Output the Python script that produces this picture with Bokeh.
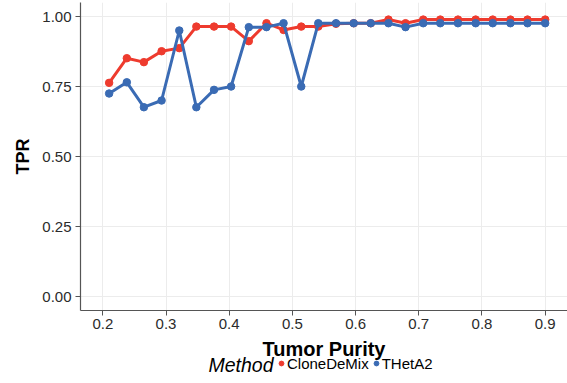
from bokeh.plotting import figure
from bokeh.layouts import column
from bokeh.models import Range1d, FixedTicker, Legend, LegendItem, Label
from bokeh.embed import file_html
from bokeh.resources import INLINE

purity = [0.210, 0.238, 0.265, 0.293, 0.321, 0.348, 0.376, 0.403, 0.431, 0.459,
          0.486, 0.514, 0.541, 0.569, 0.597, 0.624, 0.652, 0.679, 0.707, 0.734,
          0.762, 0.790, 0.817, 0.845, 0.872, 0.900]
clonedemix = [0.763, 0.851, 0.837, 0.876, 0.887, 0.964, 0.964, 0.964, 0.912, 0.976,
              0.952, 0.964, 0.964, 0.974, 0.976, 0.976, 0.989, 0.976, 0.989, 0.989,
              0.989, 0.989, 0.989, 0.989, 0.989, 0.989]
theta2 = [0.725, 0.765, 0.676, 0.700, 0.950, 0.676, 0.738, 0.750, 0.962, 0.962,
          0.976, 0.750, 0.976, 0.976, 0.976, 0.976, 0.976, 0.962, 0.976, 0.976,
          0.976, 0.976, 0.976, 0.976, 0.976, 0.976]
x_ticks = [0.2, 0.3, 0.4, 0.5, 0.6, 0.7, 0.8, 0.9]
y_ticks = [0.0, 0.25, 0.5, 0.75, 1.0]
y_tick_labels = ["0.00", "0.25", "0.50", "0.75", "1.00"]
methods = ["CloneDeMix", "THetA2"]
colors = ["#EE3B2E", "#3A6BB4"]
x_title = "Tumor Purity"
y_title = "TPR"
legend_title = "Method"

FONT = "Liberation Sans"
W = 567
H_MAIN = 336
H_BOTTOM = 47
LEFT = 80

p = figure(width=W, height=H_MAIN, output_backend="svg", toolbar_location=None,
           x_range=Range1d(0.1647, 0.9353), y_range=Range1d(-0.05, 1.05),
           min_border_left=LEFT, min_border_right=0, min_border_top=2,
           min_border_bottom=26)
p.outline_line_color = None
p.background_fill_color = "white"

# grid
for g in (p.xgrid, p.ygrid):
    g.grid_line_color = "#ececec"
    g.grid_line_width = 1
p.xgrid.ticker = FixedTicker(ticks=x_ticks)
p.ygrid.ticker = FixedTicker(ticks=y_ticks)

# axes
p.xaxis.ticker = FixedTicker(ticks=x_ticks)
p.yaxis.ticker = FixedTicker(ticks=y_ticks)
p.yaxis.major_label_overrides = {t: l for t, l in zip(y_ticks, y_tick_labels)}
p.xaxis.major_label_overrides = {t: str(t) for t in x_ticks}
for ax in (p.xaxis, p.yaxis):
    ax.axis_line_color = "#555555"
    ax.axis_line_width = 1.2
    ax.major_tick_line_color = "#555555"
    ax.major_tick_out = 5
    ax.major_tick_in = 0
    ax.minor_tick_line_color = None
    ax.major_label_text_font = FONT
    ax.major_label_text_font_size = "15px"
    ax.major_label_text_color = "#2b2b2b"
    ax.axis_label_text_font = FONT
    ax.axis_label_text_font_size = "18px"
    ax.axis_label_text_font_style = "bold"
    ax.axis_label_text_color = "black"
p.yaxis.axis_label = y_title
p.xaxis.major_label_standoff = 3
p.yaxis.major_label_standoff = 4
p.yaxis.axis_label_standoff = 6

# data
for ys, c in zip([clonedemix, theta2], colors):
    p.line(purity, ys, line_color=c, line_width=3)
    p.scatter(purity, ys, size=7.5, fill_color=c, line_color=c)

# bottom strip: x-axis title and legend (its frame is aligned with the main frame)
p2 = figure(width=W, height=H_BOTTOM, output_backend="svg", toolbar_location=None,
            x_range=Range1d(LEFT, W), y_range=Range1d(0, H_BOTTOM),
            x_axis_location=None, y_axis_location=None,
            min_border=0, min_border_left=LEFT, min_border_right=0,
            min_border_top=0, min_border_bottom=0)
p2.outline_line_color = None
p2.grid.visible = False

p2.add_layout(Label(x=323.5, y=H_BOTTOM - 12.5, text=x_title, text_font=FONT,
                    text_font_size="20px", text_font_style="bold",
                    text_align="center", text_baseline="middle", text_color="black"))
p2.add_layout(Label(x=208, y=H_BOTTOM - 28, text=legend_title, text_font=FONT,
                    text_font_size="19.5px", text_font_style="italic",
                    text_align="left", text_baseline="middle", text_color="black"))

nan = float("nan")
dummies = [p2.scatter(x=[nan], y=[nan], size=5, fill_color=c, line_color=c) for c in colors]
legend = Legend(items=[LegendItem(label=m, renderers=[r]) for m, r in zip(methods, dummies)],
                location=(275 - LEFT, 11.5), orientation="horizontal",
                glyph_width=12, glyph_height=12, label_standoff=0, spacing=1,
                padding=0, margin=0, border_line_color=None,
                background_fill_alpha=0,
                label_text_font=FONT, label_text_font_size="15px",
                label_text_color="black", label_height=12)
p2.add_layout(legend, "center")

layout = column(p, p2, spacing=0)
open("out.html", "w").write(file_html(layout, INLINE))
